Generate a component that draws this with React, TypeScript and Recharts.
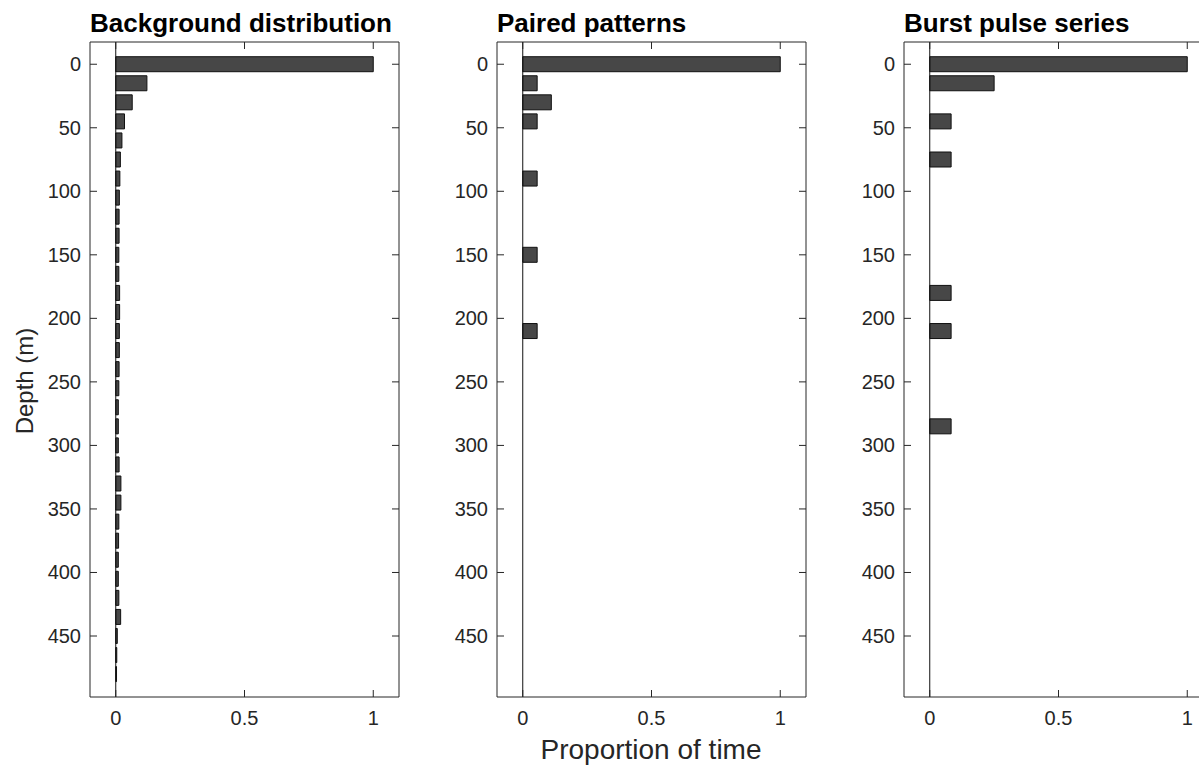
import React from 'react';
import { BarChart, Bar, XAxis, YAxis, ReferenceLine } from 'recharts';

const depths = [0, 15, 30, 45, 60, 75, 90, 105, 120, 135, 150, 165, 180, 195, 210, 225, 240, 255, 270, 285, 300, 315, 330, 345, 360, 375, 390, 405, 420, 435, 450, 465, 480];
const background = [1, 0.121, 0.064, 0.034, 0.024, 0.018, 0.016, 0.014, 0.013, 0.013, 0.012, 0.012, 0.015, 0.015, 0.014, 0.014, 0.013, 0.012, 0.01, 0.01, 0.01, 0.013, 0.02, 0.02, 0.012, 0.011, 0.01, 0.01, 0.012, 0.019, 0.006, 0.004, 0.003];
const paired = [1, 0.056, 0.111, 0.056, 0, 0, 0.056, 0, 0, 0, 0.056, 0, 0, 0, 0.056, 0, 0, 0, 0, 0, 0, 0, 0, 0, 0, 0, 0, 0, 0, 0, 0, 0, 0];
const burst = [1, 0.25, 0, 0.083, 0, 0.083, 0, 0, 0, 0, 0, 0, 0.083, 0, 0.083, 0, 0, 0, 0, 0.083, 0, 0, 0, 0, 0, 0, 0, 0, 0, 0, 0, 0, 0];

const depthTicks = [0, 50, 100, 150, 200, 250, 300, 350, 400, 450];
const propTicks = [0, 0.5, 1];
const titles = ['Background distribution', 'Paired patterns', 'Burst pulse series'];

const axisColor = '#262626';
const font = '"Liberation Sans", Arial, Helvetica, sans-serif';

const plotW = 309;
const yAxisW = 90;
const plotTop = 42;
const plotBottom = 697;
const tickLen = 7;
const xDomain: [number, number] = [-0.1, 1.1];
const yDomain: [number, number] = [-17.5, 498];

// tick marks drawn inward on both sides of the box, label outside
function DepthTick(props: any) {
  const { y, payload } = props;
  const left = yAxisW;
  const right = yAxisW + plotW;
  return (
    <g>
      <line x1={left} x2={left + tickLen} y1={y} y2={y} stroke={axisColor} />
      <line x1={right - tickLen} x2={right} y1={y} y2={y} stroke={axisColor} />
      <text x={left - 9} y={y} dy={7} textAnchor="end" fontSize={20} fill={axisColor} fontFamily={font}>
        {payload.value}
      </text>
    </g>
  );
}

function PropTick(props: any) {
  const { x, payload } = props;
  return (
    <g>
      <line x1={x} x2={x} y1={plotBottom - tickLen} y2={plotBottom} stroke={axisColor} />
      <line x1={x} x2={x} y1={plotTop} y2={plotTop + tickLen} stroke={axisColor} />
      <text x={x} y={plotBottom + 28} textAnchor="middle" fontSize={20} fill={axisColor} fontFamily={font}>
        {payload.value}
      </text>
    </g>
  );
}

function Panel({ values, left }: { values: number[]; left: number }) {
  const rows = depths.map((depth, i) => ({ depth, value: values[i] }));
  return (
    <div style={{ position: 'absolute', left, top: 0 }}>
      <BarChart
        width={yAxisW + plotW + 4}
        height={768}
        data={rows}
        layout="vertical"
        margin={{ top: plotTop, right: 4, bottom: 0, left: 0 }}
      >
        <XAxis
          xAxisId="b"
          type="number"
          domain={xDomain}
          ticks={propTicks}
          allowDataOverflow
          height={768 - plotBottom}
          tickLine={false}
          axisLine={{ stroke: axisColor }}
          tick={<PropTick />}
        />
        <XAxis
          xAxisId="t"
          orientation="top"
          type="number"
          domain={xDomain}
          ticks={propTicks}
          allowDataOverflow
          mirror
          height={1}
          tick={false}
          tickLine={false}
          axisLine={{ stroke: axisColor }}
        />
        <YAxis
          yAxisId="l"
          type="number"
          dataKey="depth"
          domain={yDomain}
          ticks={depthTicks}
          allowDataOverflow
          width={yAxisW}
          tickLine={false}
          axisLine={{ stroke: axisColor }}
          tick={<DepthTick />}
        />
        <YAxis
          yAxisId="r"
          orientation="right"
          type="number"
          dataKey="depth"
          domain={yDomain}
          ticks={depthTicks}
          allowDataOverflow
          mirror
          width={1}
          tick={false}
          tickLine={false}
          axisLine={{ stroke: axisColor }}
        />
        <ReferenceLine x={0} xAxisId="b" yAxisId="l" stroke="#111" strokeWidth={1} />
        <Bar
          xAxisId="b"
          yAxisId="l"
          dataKey="value"
          fill="#474747"
          stroke="#111"
          strokeWidth={1}
          barSize={15}
          isAnimationActive={false}
        />
      </BarChart>
    </div>
  );
}

export default function App() {
  const lefts = [0, 407, 814];
  const series = [background, paired, burst];
  return (
    <div
      style={{
        position: 'absolute',
        left: 0,
        top: 0,
        width: 1199,
        height: 768,
        overflow: 'hidden',
        background: '#fff',
        fontFamily: font,
        color: '#000',
      }}
    >
      {series.map((vals, i) => (
        <Panel key={i} values={vals} left={lefts[i]} />
      ))}
      {titles.map((t, i) => (
        <div
          key={t}
          style={{
            position: 'absolute',
            left: lefts[i] + yAxisW,
            top: 8,
            fontSize: 26,
            fontWeight: 'bold',
            whiteSpace: 'nowrap',
            lineHeight: '30px',
          }}
        >
          {t}
        </div>
      ))}
      <div
        style={{
          position: 'absolute',
          left: 25,
          top: 381,
          transform: 'translate(-50%, -50%) rotate(-90deg)',
          fontSize: 24,
          whiteSpace: 'nowrap',
          color: axisColor,
        }}
      >
        Depth (m)
      </div>
      <div
        style={{
          position: 'absolute',
          left: 651,
          top: 750,
          transform: 'translate(-50%, -50%)',
          fontSize: 28,
          whiteSpace: 'nowrap',
          color: axisColor,
        }}
      >
        Proportion of time
      </div>
    </div>
  );
}
